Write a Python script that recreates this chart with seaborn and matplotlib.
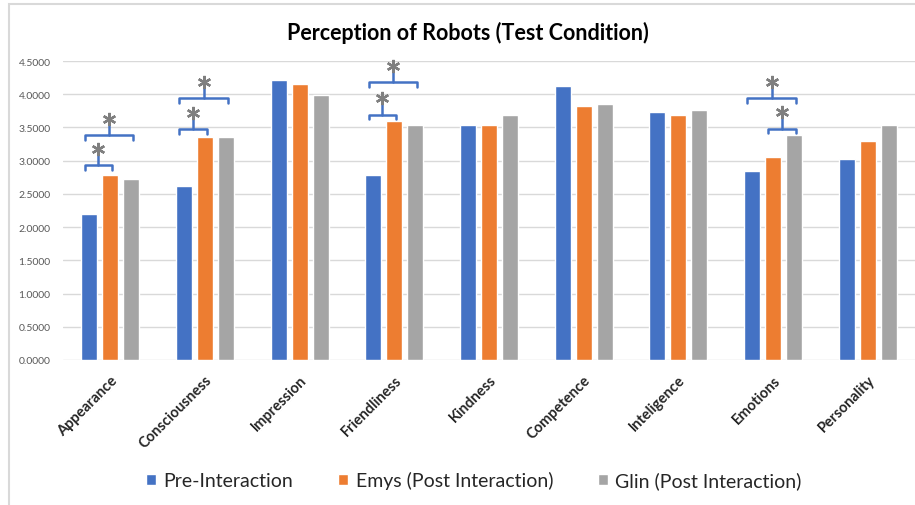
import matplotlib
matplotlib.use("Agg")
import matplotlib.pyplot as plt
from matplotlib.patches import Rectangle
import seaborn as sns
import pandas as pd

categories = ["Appearance", "Consciousness", "Impression", "Friendliness", "Kindness",
              "Competence", "Inteligence", "Emotions", "Personality"]
series_names = ["Pre-Interaction", "Emys (Post Interaction)", "Glin (Post Interaction)"]
pre_interaction = [2.19, 2.62, 4.22, 2.79, 3.53, 4.13, 3.73, 2.85, 3.02]
emys_post = [2.79, 3.36, 4.16, 3.59, 3.53, 3.82, 3.69, 3.05, 3.30]
glin_post = [2.73, 3.36, 3.99, 3.53, 3.69, 3.86, 3.77, 3.39, 3.53]
colors = ["#4472C4", "#ED7D31", "#A5A5A5"]

# significance brackets: (category, first series, second series, bracket level)
sig_category = ["Appearance", "Appearance", "Consciousness", "Consciousness",
                "Friendliness", "Friendliness", "Emotions", "Emotions"]
sig_from = [0, 0, 0, 0, 0, 0, 1, 0]
sig_to = [1, 2, 1, 2, 1, 2, 2, 2]
sig_level = [2.93, 3.38, 3.47, 3.94, 3.69, 4.18, 3.48, 3.94]

sns.set_theme(style="white")
plt.rcParams["font.family"] = ["Lato", "DejaVu Sans"]

df = pd.DataFrame({
    "category": categories * 3,
    "series": [s for s in series_names for _ in categories],
    "value": pre_interaction + emys_post + glin_post,
})

fig = plt.figure(figsize=(9.15, 5.06), dpi=100)
ax = fig.add_axes([63 / 915, 1 - 361 / 506, 852 / 915, 299 / 506])

sns.barplot(data=df, x="category", y="value", hue="series", order=categories,
            hue_order=series_names, palette=colors, width=0.666, gap=0.24,
            saturation=1, ax=ax)

ax.set_ylim(0, 4.5)
ax.set_xlim(-0.5, 8.5)
ax.set_yticks([i * 0.5 for i in range(10)])
ax.yaxis.set_major_formatter(matplotlib.ticker.FormatStrFormatter("%.4f"))
ax.tick_params(axis="y", length=0, pad=9, labelsize=7.5, labelcolor="#595959")
ax.tick_params(axis="x", length=0, pad=9, labelsize=10.5)
ax.grid(axis="y", color="#D9D9D9", linewidth=1)
ax.set_axisbelow(True)
for s in ax.spines.values():
    s.set_visible(False)
ax.set_xlabel("")
ax.set_ylabel("")
plt.setp(ax.get_xticklabels(), rotation=45, ha="right", rotation_mode="anchor",
         fontweight="bold")

# brackets with asterisks
for cat, a, b, lvl in zip(sig_category, sig_from, sig_to, sig_level):
    idx = categories.index(cat)
    ra = ax.containers[a][idx]
    rb = ax.containers[b][idx]
    x0 = ra.get_x() + ra.get_width() / 2 - 0.05
    x1 = rb.get_x() + rb.get_width() / 2 + 0.02
    xm = (x0 + x1) / 2
    ax.plot([x0, x0, x1, x1], [lvl - 0.07, lvl, lvl, lvl - 0.07], color="#4472C4",
            lw=1.8, solid_joinstyle="round", clip_on=False)
    ax.plot([xm, xm], [lvl, lvl + 0.17], color="#4472C4", lw=1.8, clip_on=False)
    ax.plot([xm], [lvl + 0.25], marker=(6, 2, 0), markersize=9.5, markeredgewidth=1.7,
            color="#7F7F7F", clip_on=False)

handles, labels = ax.get_legend_handles_labels()
ax.legend_.remove()
fig.legend(handles, labels, loc="center", bbox_to_anchor=(474 / 915, 1 - 481 / 506),
           ncol=3, frameon=False, fontsize=14, handlelength=0.5, handleheight=0.5,
           handletextpad=0.4, columnspacing=2.3)

fig.text(468 / 915, 1 - 33 / 506, "Perception of Robots (Test Condition)",
         ha="center", va="center", fontsize=15.5, fontweight="bold", color="black")

fig.patches.append(Rectangle((9 / 915, -0.01), 1.0, 1 - 5 / 506 + 0.01,
                             transform=fig.transFigure, fill=False,
                             edgecolor="#D9D9D9", linewidth=1.5))

fig.savefig("out.png", dpi=100)
